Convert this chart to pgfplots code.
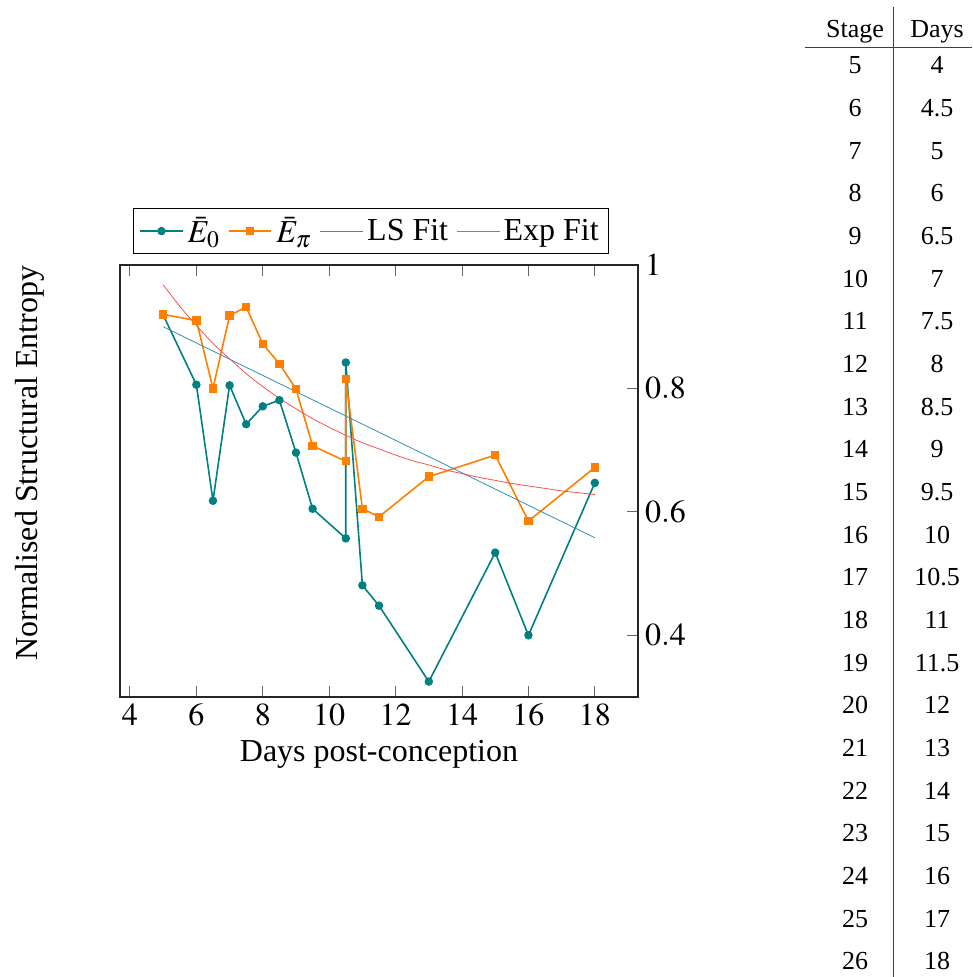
\documentclass[border=0pt]{standalone}
\usepackage{mathptmx}
\usepackage{fontspec}
\setmainfont{Liberation Serif}
\usepackage{pgfplots}
\pgfplotsset{compat=1.18}
\definecolor{lsblue}{RGB}{51,142,184}
\definecolor{expred}{RGB}{250,80,80}
\newcommand{\axfont}{\fontsize{16}{19}\selectfont}
\newcommand{\tabfont}{\fontsize{13}{15.6}\selectfont}
\begin{document}
\begin{tikzpicture}
\path[use as bounding box] (-60pt,-140pt) rectangle (426pt,348.5pt);
\begin{axis}[
  scale only axis,
  width=259pt, height=216pt,
  xmin=3.7, xmax=19.3, ymin=0.3, ymax=1,
  xtick={4,6,...,18}, ytick={0.4,0.6,0.8,1},
  ytick pos=right, yticklabel pos=right,
  major tick length=5.3pt,
  tick style={line width=0.5pt, black!60},
  axis line style={line width=0.6pt, black!85},
  tick label style={font=\axfont},
  xlabel style={font=\axfont},
  xlabel={Days post-conception},
  ylabel={Normalised Structural Entropy},
  every axis y label/.style={at={(axis description cs:-0.174,0.542)}, rotate=90, anchor=center, font=\axfont},
  legend columns=-1,
  legend style={at={(axis description cs:0.4846,1.0255)}, anchor=south, font=\axfont, draw=black, line width=0.6pt,
    /tikz/every even column/.append style={column sep=2pt}},
  legend image code/.code={\draw[mark repeat=2, mark phase=2, #1] plot coordinates {(0cm,0cm) (0.375cm,0cm) (0.75cm,0cm)};},
]
\addplot[teal, thick, mark=*, mark size=1.7pt] coordinates {
 (5,0.919) (6,0.806) (6.5,0.618) (7,0.805) (7.5,0.742) (8,0.771) (8.5,0.781)
 (9,0.696) (9.5,0.605) (10.5,0.557) (10.5,0.842) (11,0.481) (11.5,0.448)
 (13,0.325) (15,0.534) (16,0.400) (18,0.647)
};
\addlegendentry{$\bar{E}_0$}
\addplot[orange, thick, mark=square*, mark size=1.7pt] coordinates {
 (5,0.920) (6,0.910) (6.5,0.800) (7,0.918) (7.5,0.932) (8,0.872) (8.5,0.840)
 (9,0.799) (9.5,0.707) (10.5,0.682) (10.5,0.815) (11,0.605) (11.5,0.592)
 (13,0.657) (15,0.692) (16,0.585) (18,0.672)
};
\addlegendentry{$\bar{E}_\pi$}
\addplot[lsblue, thin] coordinates {(5,0.900) (18,0.558)};
\addlegendentry{LS Fit}
\addplot[expred, thin, smooth] coordinates {
 (5,0.968) (5.5,0.933) (6,0.902) (6.5,0.873) (7,0.848) (7.5,0.824) (8,0.803)
 (8.5,0.784) (9,0.767) (9.5,0.751) (10,0.737) (10.5,0.724) (11,0.712)
 (11.5,0.702) (12,0.692) (12.5,0.683) (13,0.676) (13.5,0.668) (14,0.662)
 (14.5,0.656) (15,0.651) (15.5,0.646) (16,0.642) (16.5,0.638) (17,0.634)
 (17.5,0.631) (18,0.628)
};
\addlegendentry{Exp Fit}
\end{axis}
% stage/days table
\draw[line width=0.5pt, black!75] (386.5pt,-140pt) -- (386.5pt,345pt);
\draw[line width=0.5pt, black!75] (342.5pt,324.5pt) -- (426pt,324.5pt);
\node[anchor=base, font=\tabfont] at (367.5pt,329.6pt) {Stage};
\node[anchor=base, font=\tabfont] at (408.5pt,329.6pt) {Days};
\foreach \s/\d [count=\i from 0] in {5/4, 6/4.5, 7/5, 8/6, 9/6.5, 10/7, 11/7.5, 12/8, 13/8.5, 14/9, 15/9.5, 16/10, 17/10.5, 18/11, 19/11.5, 20/12, 21/13, 22/14, 23/15, 24/16, 25/17, 26/18} {
  \node[anchor=base, font=\tabfont] at (367.5pt,{311.5pt-\i*21.33pt}) {\s};
  \node[anchor=base, font=\tabfont] at (408.5pt,{311.5pt-\i*21.33pt}) {\d};
}
\end{tikzpicture}
\end{document}
